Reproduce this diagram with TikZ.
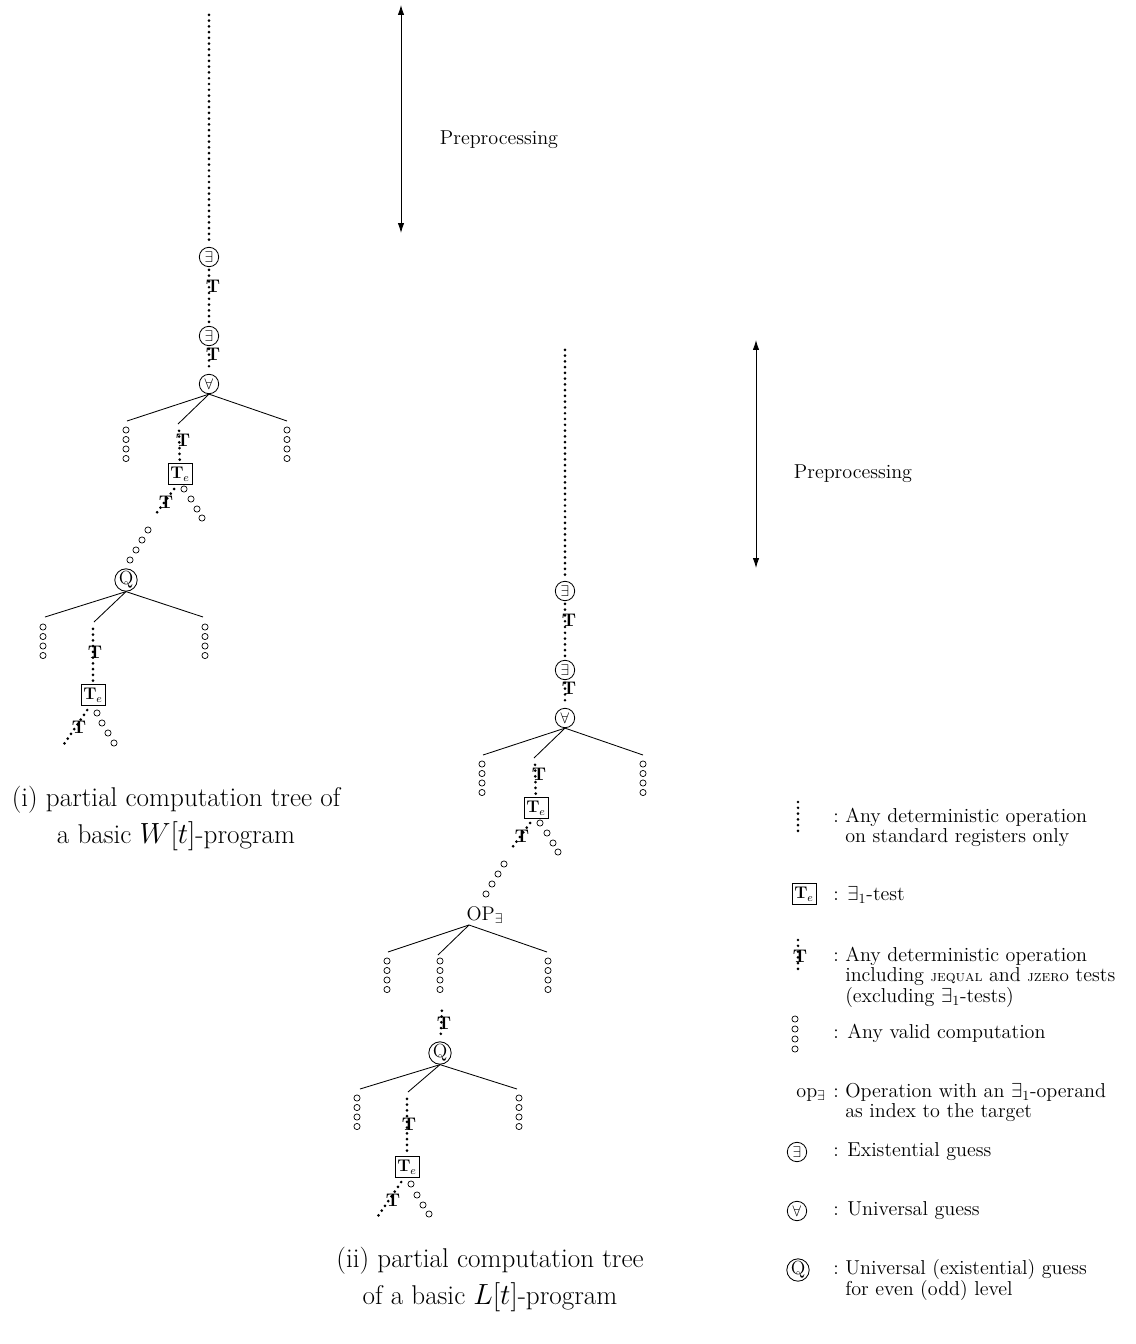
\documentclass[tikz,border=0pt]{standalone}
\usepackage{amsmath,amssymb}
\usetikzlibrary{arrows.meta,positioning}

\begin{document}
\begin{tikzpicture}[
    x=0.025cm, y=-0.025cm,
    guess/.style={draw, circle, minimum size=13.8pt, inner sep=0pt, line width=0.6pt, font=\fontsize{11}{11}\selectfont},
    qguess/.style={font=\fontsize{13.5}{13.5}\selectfont},
    testbox/.style={draw, rectangle, minimum width=17pt, minimum height=15.5pt, inner sep=0pt, line width=0.6pt, font=\fontsize{12}{12}\selectfont},
    tlabel/.style={font=\fontsize{13}{13}\selectfont\bfseries, inner sep=0pt},
    dotline/.style={line width=2.1pt, dash pattern=on 0pt off 4.1pt, line cap=round, shorten <=2pt, shorten >=2pt},
    hole/.style={draw, circle, minimum size=4.4pt, inner sep=0pt, line width=0.5pt},
    branch/.style={line width=0.6pt},
    span/.style={{Latex[length=7pt,width=4.5pt]}-{Latex[length=7pt,width=4.5pt]}, line width=0.6pt},
    pretext/.style={font=\fontsize{14.3}{14.3}\selectfont},
    legtext/.style={font=\fontsize{14.3}{14.3}\selectfont, anchor=base west, inner sep=0pt},
    caption/.style={font=\fontsize{19.3}{26}\selectfont, align=center, anchor=base, inner sep=0pt},
]
\useasboundingbox (0,0) rectangle (1136,1344);

% ---------- Tree (i) ----------
\coordinate (topA) at (209,12);
\node[guess] (exA1) at (209,257) {$\exists$};
\node[guess] (exA2) at (209,336) {$\exists$};
\node[guess] (allA) at (209,384) {$\forall$};
\draw[dotline] (topA) -- (exA1);
\draw[dotline] (exA1) -- (exA2);
\draw[dotline] (exA2) -- (allA);
\node[tlabel] (tA1) at (213,286) {T};
\node[tlabel] (tA2) at (213,354) {T};

% universal branching
\coordinate (allAL) at (127,421);
\coordinate (allAM) at (178,424);
\coordinate (allAR) at (287,421);
\draw[branch] (allA.south) -- (allAL);
\draw[branch] (allA.south) -- (allAM);
\draw[branch] (allA.south) -- (allAR);
\foreach \k in {0,...,3} {
    \node[hole] (holeAL\k) at (126,430+9.5*\k) {};
    \node[hole] (holeAR\k) at (287,430+9.5*\k) {};
}
\coordinate (midA1) at (179,428);
\node[testbox] (teA1) at (180,474) {$\mathbf{T}_e$};
\draw[dotline] (midA1) -- (teA1);
\node[tlabel] (tA3) at (183,440) {T};

% fork below the test
\coordinate (forkA1) at (153,518);
\draw[dotline] ([xshift=-3pt,yshift=-1pt]teA1.south) -- (forkA1);
\node[tlabel] (tA4) at (166,502) {T};
\foreach \xx/\yy [count=\k] in {148/530,142/540,136/550,130/560}
    \node[hole] (holeAD\k) at (\xx,\yy) {};
\foreach \xx/\yy [count=\k] in {184/489,191/499,197/509,202/518}
    \node[hole] (holeAE\k) at (\xx,\yy) {};

% level guess
\node[guess, qguess] (qA) at (126,580) {Q};
\coordinate (qAL) at (45,617);
\coordinate (qAM) at (94,622);
\coordinate (qAR) at (203,617);
\draw[branch] (qA.south) -- (qAL);
\draw[branch] (qA.south) -- (qAM);
\draw[branch] (qA.south) -- (qAR);
\foreach \k in {0,...,3} {
    \node[hole] (holeBL\k) at (43,627+9.5*\k) {};
    \node[hole] (holeBR\k) at (205,627+9.5*\k) {};
}
\coordinate (midA2) at (93,626);
\node[testbox] (teA2) at (93,695) {$\mathbf{T}_e$};
\draw[dotline] (midA2) -- (teA2);
\node[tlabel] (tA5) at (95,652) {T};
\coordinate (forkA2) at (62,747);
\draw[dotline] ([xshift=-3pt,yshift=-1pt]teA2.south) -- (forkA2);
\node[tlabel] (tA6) at (79,727) {T};
\foreach \xx/\yy [count=\k] in {97/713,102/723,108/733,114/743}
    \node[hole] (holeBE\k) at (\xx,\yy) {};

% preprocessing span (i)
\coordinate (preATop) at (401,5);
\coordinate (preABot) at (401,233);
\draw[span] (preATop) -- (preABot);
\node[pretext] (preAText) at (499,140) {Preprocessing};

\node[caption] (capA) at (176,843) {(i) partial computation tree of\\a basic $W[t]$-program};

% ---------- Tree (ii) ----------
\coordinate (topB) at (565,347);
\node[guess] (exB1) at (565,591) {$\exists$};
\node[guess] (exB2) at (565,670) {$\exists$};
\node[guess] (allB) at (565,718) {$\forall$};
\draw[dotline] (topB) -- (exB1);
\draw[dotline] (exB1) -- (exB2);
\draw[dotline] (exB2) -- (allB);
\node[tlabel] (tB1) at (569,620) {T};
\node[tlabel] (tB2) at (569,688) {T};

\coordinate (allBL) at (483,755);
\coordinate (allBM) at (534,758);
\coordinate (allBR) at (643,755);
\draw[branch] (allB.south) -- (allBL);
\draw[branch] (allB.south) -- (allBM);
\draw[branch] (allB.south) -- (allBR);
\foreach \k in {0,...,3} {
    \node[hole] (holeCL\k) at (482,764+9.5*\k) {};
    \node[hole] (holeCR\k) at (643,764+9.5*\k) {};
}
\coordinate (midB1) at (535,762);
\node[testbox] (teB1) at (536,808) {$\mathbf{T}_e$};
\draw[dotline] (midB1) -- (teB1);
\node[tlabel] (tB3) at (539,774) {T};
\coordinate (forkB1) at (509,852);
\draw[dotline] ([xshift=-3pt,yshift=-1pt]teB1.south) -- (forkB1);
\node[tlabel] (tB4) at (522,836) {T};
\foreach \xx/\yy [count=\k] in {504/864,498/874,492/884,486/894}
    \node[hole] (holeCD\k) at (\xx,\yy) {};
\foreach \xx/\yy [count=\k] in {540/823,547/833,553/843,558/852}
    \node[hole] (holeCE\k) at (\xx,\yy) {};

% operation with existential operand
\node[font=\fontsize{14}{14}\selectfont, inner sep=1pt] (opB) at (485,915) {OP$_\exists$};
\coordinate (opBroot) at (469,925);
\coordinate (opBL) at (388,952);
\coordinate (opBM) at (438,955);
\coordinate (opBR) at (547,952);
\draw[branch] (opBroot) -- (opBL);
\draw[branch] (opBroot) -- (opBM);
\draw[branch] (opBroot) -- (opBR);
\foreach \k in {0,...,3} {
    \node[hole] (holeDL\k) at (387,961+9.5*\k) {};
    \node[hole] (holeDM\k) at (440,961+9.5*\k) {};
    \node[hole] (holeDR\k) at (548,961+9.5*\k) {};
}
\coordinate (midB2) at (442,1008);
\node[guess, qguess] (qB) at (440,1053) {Q};
\draw[dotline] (midB2) -- (qB);
\node[tlabel] (tB5) at (444,1023) {T};

\coordinate (qBL) at (360,1089);
\coordinate (qBM) at (408,1092);
\coordinate (qBR) at (517,1089);
\draw[branch] (qB.south) -- (qBL);
\draw[branch] (qB.south) -- (qBM);
\draw[branch] (qB.south) -- (qBR);
\foreach \k in {0,...,3} {
    \node[hole] (holeEL\k) at (357,1098+9.5*\k) {};
    \node[hole] (holeER\k) at (519,1098+9.5*\k) {};
}
\coordinate (midB3) at (407,1096);
\node[testbox] (teB2) at (407,1167) {$\mathbf{T}_e$};
\draw[dotline] (midB3) -- (teB2);
\node[tlabel] (tB6) at (409,1124) {T};
\coordinate (forkB2) at (376,1219);
\draw[dotline] ([xshift=-3pt,yshift=-1pt]teB2.south) -- (forkB2);
\node[tlabel] (tB7) at (393,1200) {T};
\foreach \xx/\yy [count=\k] in {411/1184,417/1195,423/1205,429/1214}
    \node[hole] (holeEE\k) at (\xx,\yy) {};

% preprocessing span (ii)
\coordinate (preBTop) at (756,340);
\coordinate (preBBot) at (756,568);
\draw[span] (preBTop) -- (preBBot);
\node[pretext] (preBText) at (853,474) {Preprocessing};

\node[caption] (capB) at (490,1304) {(ii) partial computation tree\\of a basic $L[t]$-program};

% ---------- Legend ----------
\coordinate (legDotTop) at (798,802);
\coordinate (legDotBot) at (798,832);
\draw[dotline, shorten <=0pt, shorten >=0pt] (legDotTop) -- (legDotBot);
\node[legtext] (legText1) at (833,822) {\begin{tabular}[t]{@{}l@{\ }l@{}}: & Any deterministic operation\\ & on standard registers only\end{tabular}};

\node[testbox] (legTe) at (804,894) {$\mathbf{T}_e$};
\node[legtext] (legText2) at (833,900) {: $\exists_1$-test};

\coordinate (legTTop) at (798,940);
\coordinate (legTBot) at (798,970);
\draw[dotline, shorten <=0pt, shorten >=0pt] (legTTop) -- (legTBot);
\node[tlabel] (legT) at (800,956) {T};
\node[legtext] (legText3) at (833,961) {\begin{tabular}[t]{@{}l@{\ }l@{}}: & Any deterministic operation\\ & including {\fontsize{11}{11}\selectfont\textsc{jequal}} and {\fontsize{11}{11}\selectfont\textsc{jzero}} tests\\ & (excluding $\exists_1$-tests)\end{tabular}};

\foreach \k in {0,...,3}
    \node[hole] (legHole\k) at (795,1019+10*\k) {};
\node[legtext] (legText4) at (833,1038) {: Any valid computation};

\node[legtext, anchor=base east] (legOp) at (826,1097) {op$_\exists$};
\node[legtext] (legText5) at (833,1097) {\begin{tabular}[t]{@{}l@{\ }l@{}}: & Operation with an $\exists_1$-operand\\ & as index to the target\end{tabular}};

\node[guess] (legEx) at (797,1152) {$\exists$};
\node[legtext] (legText6) at (833,1156) {: Existential guess};

\node[guess] (legAll) at (797,1211) {$\forall$};
\node[legtext] (legText7) at (833,1215) {: Universal guess};

\node[guess, qguess] (legQ) at (798,1270) {Q};
\node[legtext] (legText8) at (833,1274) {\begin{tabular}[t]{@{}l@{\ }l@{}}: & Universal (existential) guess\\ & for even (odd) level\end{tabular}};
\end{tikzpicture}
\end{document}
